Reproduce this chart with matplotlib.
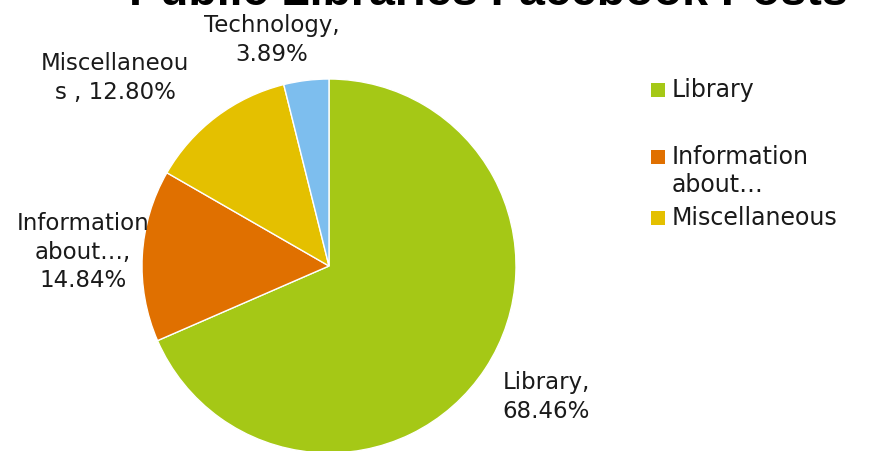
import matplotlib
matplotlib.use("Agg")
import matplotlib.pyplot as plt
from matplotlib.patches import Rectangle

categories = ["Library", "Information\nabout…", "Miscellaneous", "Technology"]
values = [68.46, 14.84, 12.80, 3.89]
colors = ["#A5C816", "#E07000", "#E4C000", "#7DBEEE"]
slice_labels = ["Library,\n68.46%", "Information\nabout…,\n14.84%",
                "Miscellaneou\ns , 12.80%", "Technology,\n3.89%"]
legend_count = 3
title = "Public Libraries Facebook Posts"

W, H = 870, 451
fig = plt.figure(figsize=(W / 100, H / 100), dpi=100)
ax = fig.add_axes([0, 0, 1, 1])
cx, cy, R = 329, 266, 187  # pie center / radius in pixels

ax.pie(values, colors=colors, startangle=90, counterclock=False, radius=1,
       wedgeprops=dict(edgecolor="white", linewidth=1.0))
ax.set_xlim(-cx / R, (W - cx) / R)
ax.set_ylim(-(H - cy) / R, cy / R)
ax.set_aspect("equal")
ax.axis("off")


def px(x, y):
    return (x - cx) / R, (cy - y) / R


label_pos = [(546, 397), (83, 252), (115, 78), (272, 40)]
font = "DejaVu Sans"
for lab, (x, y) in zip(slice_labels, label_pos):
    ax.text(*px(x, y), lab, ha="center", va="center", fontsize=16.5,
            family=font, color="#1a1a1a", linespacing=1.28)

fig.text(488 / W, 1 - 5 / H, title, ha="center", va="baseline",
         fontsize=33.5, fontweight="bold", family="Liberation Sans", color="black")

leg_y = [90, 157, 218]
for i in range(legend_count):
    y = leg_y[i]
    fig.patches.append(Rectangle(((651) / W, 1 - (y + 7) / H), 14 / W, 14 / H,
                                 transform=fig.transFigure, facecolor=colors[i],
                                 edgecolor="none"))
    fig.text(672 / W, 1 - (y - 12) / H, categories[i], ha="left", va="top",
             fontsize=17, family=font, color="#1a1a1a", linespacing=1.22)

fig.savefig("out.png", dpi=100)
